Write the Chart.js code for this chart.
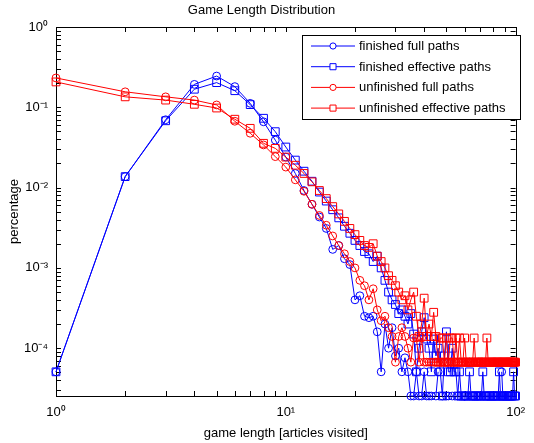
<!DOCTYPE html>
<html><head><meta charset="utf-8">
<script src="https://cdn.jsdelivr.net/npm/chart.js@4.4.1/dist/chart.umd.min.js"></script>
<style>html,body{margin:0;padding:0;background:#fff}#wrap{width:534px;height:443px}</style>
</head><body><div id="wrap"><canvas id="c" width="534" height="443"></canvas></div>
<script>
const gameLength = Array.from({length: 100}, (_, i) => i + 1);
const A = 2.54e-5, B = 5.08e-5, R = 6.7e-5, R2 = 1.34e-4;
const finishedFull = [B,0.0137,0.070,0.193,0.245,0.181,0.112,0.066,0.039,0.024,
 0.0150,0.0092,0.0062,0.0043,0.0031,0.0017,0.0019,0.0013,0.0011,0.00040,
 0.00045,0.00025,0.00024,0.00025,0.00016,B,0.00020,0.00010,0.00018,0.00008,
 0.00010,B,7.6e-5,B,A,A,B,A,A,B,
 A,A,A,null,A,B,null,A,null,A,
 A,null,A,null,null,A,null,null,null,A,
 null,null,null,null,A,null,null,null,null,null,
 null,null,null,null,null,null,null,null,null,null,
 null,null,null,null,null,null,B,A,null,null,
 null,null,null,null,null,null,null,null,null,null];
const finishedEffective = [B,0.0137,0.068,0.168,0.203,0.161,0.108,0.073,0.0497,0.032,
 0.022,0.016,0.012,0.0088,0.0068,0.0053,0.0042,0.0033,0.0027,0.0022,
 0.0019,0.0016,0.0015,0.0012,0.0014,0.0010,0.0007,0.0005,0.0004,0.00035,
 0.00027,0.0003,0.00025,0.0002,0.00027,0.00015,B,0.0001,0.00016,0.00024,
 0.00013,0.0001,B,0.00013,0.00008,0.0001,B,A,0.00008,0.00016,
 B,B,0.0001,B,B,A,B,A,A,A,
 A,A,B,A,A,A,A,A,A,A,
 A,B,A,A,A,A,A,A,A,A,
 A,A,A,A,B,A,A,A,A,A,
 A,A,A,A,A,A,A,B,A,A];
const unfinishedFull = [0.232,0.156,0.135,0.123,0.107,0.067,0.0475,0.034,0.0243,0.018,
 0.0125,0.0090,0.0062,0.0045,0.0034,0.0025,0.0019,0.0015,0.0012,0.0010,
 0.0007,0.0006,0.0004,0.00055,0.0003,0.00022,0.00025,0.00018,0.00014,R,
 0.00014,0.00018,0.00014,0.0001,R,R2,R2,R,R2,R,
 R,R,R,R,R,R,R,R,R,R,
 R,R,R,R,R,R,R,R,R,R,
 R,R,R,R,R,R,R,R,R,R,
 R,R,R,R,R,R,R,R,R,R,
 R,R,R,R,R,R,R,R,R,R,
 R,R,R,R,R,R,R,R,R,R];
const unfinishedEffective = [0.207,0.135,0.123,0.109,0.098,0.071,0.0547,0.0356,0.0308,0.024,
 0.019,0.0150,0.0118,0.0092,0.0073,0.0058,0.0047,0.0038,0.0031,0.0026,
 0.0022,0.0019,0.0018,0.0020,0.0014,0.0012,0.0010,0.0008,0.0007,0.0006,
 0.0005,0.0004,0.00045,0.0003,0.0004,0.0005,0.00025,0.00014,0.0002,0.00042,
 0.00014,0.0002,0.00014,0.00028,0.00014,R,R2,R2,R,R2,
 R,R2,R2,R,R2,R,R2,R,R,R2,
 R,R,R,R,R,R2,R,R,R,R,
 R,R,R,R,R2,R,R,R,R,R,
 R,R,R,R,R,R,R,R,R,R,
 R,R,R,R,R,R,R,R,R,R];
const seriesNames = ['finished full paths','finished effective paths','unfinished full paths','unfinished effective paths'];
const seriesColors = ['#0000ff','#0000ff','#ff0000','#ff0000'];
const seriesMarkers = ['circle','rect','circle','rect'];
const xLimits = [1, 100];
const yLimits = [2.54e-5, 1];
const supers = {'0':'⁰','1':'¹','2':'²','3':'³','4':'⁴','5':'⁵','-':'⁻'};
function powLabel(v){const e=Math.round(Math.log10(v)); if(Math.abs(Math.log10(v)-e)>1e-6) return ''; return '10'+String(e).split('').map(c=>supers[c]).join('');}
const FONT = "'Liberation Sans', Arial, Helvetica, sans-serif";
const allSeries = [finishedFull, finishedEffective, unfinishedFull, unfinishedEffective];

const boxTicks = {
  id:'boxTicks',
  beforeDatasetsDraw(chart){
    const {ctx, chartArea:a, scales:{x,y}} = chart;
    ctx.save(); ctx.strokeStyle='#000'; ctx.lineWidth=1;
    ctx.strokeRect(Math.round(a.left)+0.5, Math.round(a.top)+0.5, Math.round(a.right-a.left), Math.round(a.bottom-a.top));
    ctx.beginPath();
    const L=5;
    for(let k=0;k<=2;k++) for(let d=1;d<=9;d++){const v=d*Math.pow(10,k); if(v<xLimits[0]||v>xLimits[1]) continue;
      const px=Math.round(x.getPixelForValue(v))+0.5;
      ctx.moveTo(px,a.bottom); ctx.lineTo(px,a.bottom-L); ctx.moveTo(px,a.top); ctx.lineTo(px,a.top+L);}
    for(let k=-5;k<=0;k++) for(let d=1;d<=9;d++){const v=d*Math.pow(10,k); if(v<yLimits[0]||v>yLimits[1]*1.0001) continue;
      const py=Math.round(y.getPixelForValue(v))+0.5;
      ctx.moveTo(a.left,py); ctx.lineTo(a.left+L,py); ctx.moveTo(a.right,py); ctx.lineTo(a.right-L,py);}
    ctx.stroke(); ctx.restore();
  },
  afterDraw(chart){
    const {ctx} = chart;
    const bx=302, by=35, bw=218, bh=84;
    ctx.save();
    ctx.fillStyle='#fff'; ctx.fillRect(bx,by,bw,bh);
    ctx.strokeStyle='#000'; ctx.lineWidth=1; ctx.strokeRect(bx+0.5,by+0.5,bw,bh);
    ctx.font='13px '+FONT; ctx.textBaseline='middle'; ctx.textAlign='left';
    chart.data.datasets.forEach((ds,i)=>{
      const yy = 46 + i*20.7;
      ctx.strokeStyle=ds.borderColor; ctx.lineWidth=1;
      ctx.beginPath(); ctx.moveTo(311,yy); ctx.lineTo(355,yy); ctx.stroke();
      ctx.fillStyle='#fff'; ctx.strokeStyle=ds.borderColor;
      Chart.helpers.drawPoint(ctx,{pointStyle:ds.pointStyle,radius:ds.pointStyle==='rect'?4.3:3.1,borderWidth:1},333,yy);
      ctx.fillStyle='#000'; ctx.fillText(ds.label,359,yy+0.5);
    });
    ctx.restore();
  }
};

new Chart(document.getElementById('c'), {
  type:'line',
  data:{ datasets: allSeries.map((arr,i)=>({
    label: seriesNames[i],
    data: gameLength.map((g,j)=>({x:g, y:arr[j]})),
    borderColor: seriesColors[i], backgroundColor:'rgba(0,0,0,0)',
    pointBorderColor: seriesColors[i], pointBackgroundColor:'rgba(0,0,0,0)',
    borderWidth:1, pointBorderWidth:1,
    pointStyle: seriesMarkers[i], pointRadius: seriesMarkers[i]==='rect'?5.5:3.9,
    spanGaps:false, tension:0, clip:false, order:3-i
  }))},
  plugins:[boxTicks],
  options:{
    responsive:false, animation:false, devicePixelRatio:1,
    layout:{padding:{left:0,right:11,top:0,bottom:0}},
    plugins:{
      legend:{display:false}, tooltip:{enabled:false},
      title:{display:true,text:'Game Length Distribution',color:'#000',font:{family:FONT,size:13,weight:'normal'},padding:{top:3,bottom:8.4}}
    },
    scales:{
      x:{type:'logarithmic',min:xLimits[0],max:xLimits[1],
        grid:{display:false,drawTicks:false}, border:{display:false},
        ticks:{autoSkip:false,maxRotation:0,color:'#000',padding:9,font:{family:FONT,size:13},callback:(v)=>powLabel(v)},
        title:{display:true,text:'game length [articles visited]',color:'#000',font:{family:FONT,size:13},padding:{top:0,bottom:2}},
        afterFit:(s)=>{s.height=47;}
      },
      y:{type:'logarithmic',min:yLimits[0],max:yLimits[1],
        grid:{display:false,drawTicks:false}, border:{display:false},
        ticks:{autoSkip:false,color:'#000',padding:8,font:{family:FONT,size:13},callback:(v)=>powLabel(v)},
        title:{display:true,text:'percentage',color:'#000',font:{family:FONT,size:13},padding:{top:7,bottom:0}},
        afterFit:(s)=>{s.width=56;}
      }
    }
  }
});
</script></body></html>
